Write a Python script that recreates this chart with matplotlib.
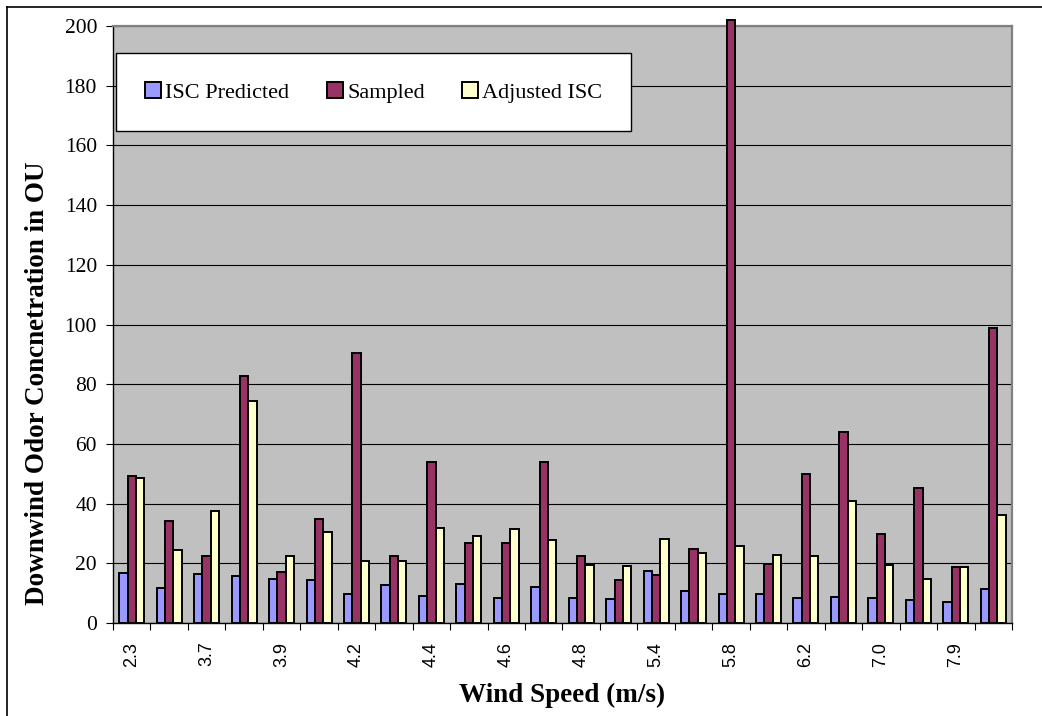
import numpy as np
import matplotlib
matplotlib.use("Agg")
import matplotlib.pyplot as plt
from matplotlib.lines import Line2D

# values
speed_labels = ["2.3", "", "3.7", "", "3.9", "", "4.2", "", "4.4", "", "4.6", "",
                "4.8", "", "5.4", "", "5.8", "", "6.2", "", "7.0", "", "7.9", ""]
isc_predicted = [16.7, 11.8, 16.4, 15.6, 14.6, 14.4, 9.6, 12.7, 8.9, 13.1, 8.5, 12.0,
                 8.5, 8.2, 17.4, 10.8, 9.8, 9.7, 8.5, 8.8, 8.5, 7.8, 7.0, 11.4]
sampled = [49.2, 34.2, 22.6, 82.9, 17.1, 34.9, 90.4, 22.6, 53.8, 26.8, 26.8, 53.8,
           22.6, 14.4, 16.0, 24.9, 202.0, 19.7, 49.9, 63.9, 29.8, 45.3, 18.9, 98.8]
adjusted_isc = [48.7, 24.6, 37.5, 74.4, 22.6, 30.4, 20.7, 20.8, 31.9, 29.3, 31.5, 27.9,
                19.4, 19.0, 28.3, 23.5, 25.9, 22.8, 22.6, 40.8, 19.4, 14.9, 18.9, 36.3]

series_names = ["ISC Predicted", "Sampled", "Adjusted ISC"]
colors = ["#9999FF", "#993366", "#FFFFCC"]

serif = "Liberation Serif"
sans = "Liberation Sans"

fig = plt.figure(figsize=(10.42, 7.16), dpi=100)
ax = fig.add_axes([113/1042, 1-623/716, 899/1042, 597/716])
ax.set_facecolor("#C0C0C0")

x = np.arange(len(speed_labels))
w = 1/4.5
for k, vals in enumerate([isc_predicted, sampled, adjusted_isc]):
    ax.bar(x + (k-1)*w, vals, width=w, color=colors[k], edgecolor="black",
           linewidth=1.4, label=series_names[k], zorder=3, clip_on=False)

ax.set_xlim(-0.5, len(speed_labels)-0.5)
ax.set_ylim(0, 200)
ax.set_yticks(np.arange(0, 201, 20))
ax.yaxis.grid(True, color="black", linewidth=0.8, zorder=1)
ax.set_axisbelow(True)

ax.set_xticks(x)
ax.set_xticklabels(speed_labels, rotation=90, fontfamily=sans, fontsize=13)
ax.set_xticks(np.arange(-0.5, len(speed_labels)), minor=True)
ax.tick_params(axis="x", which="major", length=0, pad=13.5)
ax.tick_params(axis="x", which="minor", length=5, width=0.8, color="black")
ax.tick_params(axis="y", length=5, width=0.8, pad=6.5)
for t in ax.get_yticklabels():
    t.set_fontfamily(serif)
    t.set_fontsize(15.5)

for s in ["top", "right"]:
    ax.spines[s].set_color("#808080")
    ax.spines[s].set_linewidth(1.6)
for s in ["left", "bottom"]:
    ax.spines[s].set_color("black")
    ax.spines[s].set_linewidth(1.0)

leg = ax.legend(loc="upper left", bbox_to_anchor=(0.0033, 0.9548), borderaxespad=0,
                ncol=3, prop={"family": serif, "size": 16}, frameon=True, fancybox=False,
                handlelength=0.72, handleheight=0.72, handletextpad=0.2,
                columnspacing=1.68, borderpad=1.3)
leg.get_frame().set_edgecolor("black")
leg.get_frame().set_linewidth(1.0)
leg.get_frame().set_facecolor("white")
leg.get_frame().set_alpha(1)

fig.text(562/1042, 1-695/716, "Wind Speed (m/s)", ha="center", va="center",
         fontfamily=serif, fontweight="bold", fontsize=19.5)
fig.text(38/1042, 1-383/716, "Downwind Odor Concnetration in OU", ha="center", va="center",
         rotation=90, fontfamily=serif, fontweight="bold", fontsize=19.5)

# outer chart border (top and left edges visible)
fig.add_artist(Line2D([7/1042, 7/1042], [0, 1-7/716], color="black", linewidth=1.2))
fig.add_artist(Line2D([7/1042, 1], [1-7/716, 1-7/716], color="black", linewidth=1.2))

fig.savefig("out.png", dpi=100)
